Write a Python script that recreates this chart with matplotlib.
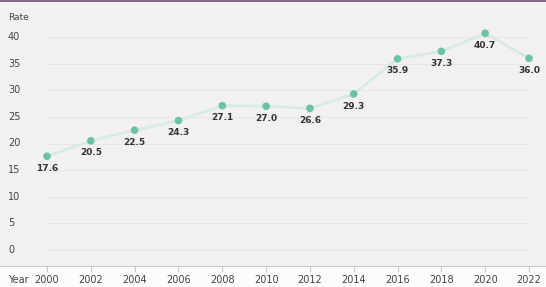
import matplotlib
matplotlib.use("Agg")
import matplotlib.pyplot as plt

years = [2000, 2002, 2004, 2006, 2008, 2010, 2012, 2014, 2016, 2018, 2020, 2022]
rates = [17.6, 20.5, 22.5, 24.3, 27.1, 27.0, 26.6, 29.3, 35.9, 37.3, 40.7, 36.0]
yticks = [0, 5, 10, 15, 20, 25, 30, 35, 40]

W, H = 546, 287
fig = plt.figure(figsize=(W / 100, H / 100), dpi=100)
fig.patch.set_facecolor("#fbfbfa")

# plot area in pixels: top 2, bottom 266
ax = fig.add_axes([0, (H - 266) / H, 1, (266 - 2) / H])
ax.set_facecolor("#f2f1ef")

ppu = (250 - 37) / 40.0
ymin = -(266 - 250) / ppu
ymax = 40 + (37 - 2) / ppu
ppx = (529 - 47) / 22.0
xmin = 2000 - 47 / ppx
xmax = 2022 + (W - 529) / ppx
ax.set_xlim(xmin, xmax)
ax.set_ylim(ymin, ymax)

for s in ax.spines.values():
    s.set_visible(False)
ax.spines["bottom"].set_visible(True)
ax.spines["bottom"].set_color("#c8c8c8")
ax.spines["bottom"].set_linewidth(0.8)

ax.hlines(yticks, years[0], years[-1], colors="#e6e5e2", linewidth=0.7, zorder=1)

ax.set_yticks([])
ax.set_xticks(years)
ax.set_xticklabels([str(y) for y in years], fontsize=7, color="#444444")
ax.tick_params(axis="x", direction="out", length=4, width=0.8, color="#c8c8c8", pad=2.5)

for v in yticks:
    ax.text(8 / W, v, str(v), transform=ax.get_yaxis_transform(), ha="left",
            va="center", fontsize=7, color="#444444")

ax.text(8 / W, 1 - (18 - 2) / 264, "Rate", transform=ax.transAxes,
        ha="left", va="center", fontsize=6.5, color="#444444")
fig.text(8 / W, 1 - 280 / H, "Year", ha="left", va="center", fontsize=7, color="#444444")

ax.plot(years, rates, color="#d4ece3", linewidth=2, zorder=2)
ax.scatter(years, rates, s=30, color="#6cc3a3", zorder=3, edgecolors="none")
for x, y in zip(years, rates):
    ax.annotate(f"{y:.1f}", (x, y), xytext=(0, -5.5), textcoords="offset points",
                ha="center", va="top", fontsize=6.5, fontweight="bold", color="#333333")

# top border
fig.add_artist(plt.Line2D([0, 1], [1 - 1 / H, 1 - 1 / H], transform=fig.transFigure,
                          color="#6e4f72", linewidth=1.2))

fig.savefig("out.png", dpi=100, facecolor=fig.get_facecolor())
